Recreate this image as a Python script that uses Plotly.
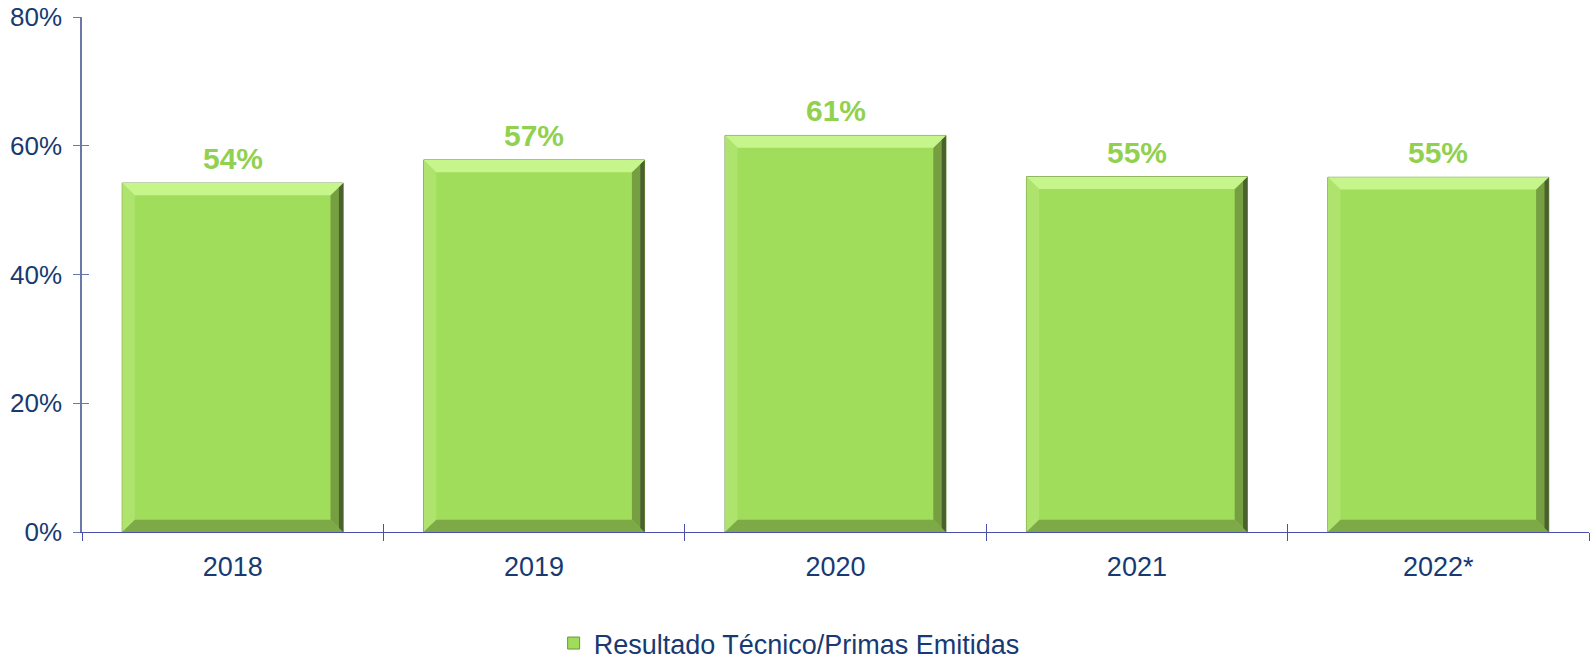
import plotly.graph_objects as go

categories = ["2018", "2019", "2020", "2021", "2022*"]
values = [54.2, 57.8, 61.6, 55.2, 55.1]
labels = ["54%", "57%", "61%", "55%", "55%"]
series_name = "Resultado Técnico/Primas Emitidas"
y_ticks = [0, 20, 40, 60, 80]
y_tick_text = ["0%", "20%", "40%", "60%", "80%"]

FONT = "Liberation Sans, Arial, sans-serif"
NAVY = "#173A72"
BAR = "#A0DD5B"
LABEL = "#92D050"
BAR_W = 0.733

xs = list(range(len(categories)))

fig = go.Figure()
fig.add_trace(go.Bar(
    x=xs, y=values, width=BAR_W, name=series_name,
    marker=dict(color=BAR, line=dict(color="#6E9440", width=1)),
    showlegend=True,
))
# helper empty traces so overlay axes get drawn
fig.add_trace(go.Scatter(x=[], y=[], xaxis="x2", yaxis="y", showlegend=False, hoverinfo="skip"))
fig.add_trace(go.Scatter(x=[], y=[], xaxis="x3", yaxis="y", showlegend=False, hoverinfo="skip"))
fig.add_trace(go.Scatter(x=[], y=[], xaxis="x", yaxis="y2", showlegend=False, hoverinfo="skip"))

# bevel shapes derived from data values
dx, dy, dxo = 0.042, 1.9, 0.014
shapes = []
for i, v in zip(xs, values):
    x0, x1 = i - BAR_W / 2, i + BAR_W / 2
    def path(pts):
        return "M " + " L ".join(f"{a},{b}" for a, b in pts) + " Z"
    shapes.append(dict(type="path", xref="x", yref="y", layer="above", line=dict(width=0),
                       fillcolor="#AEE36E",
                       path=path([(x0, v), (x0, 0), (x0 + dx, dy), (x0 + dx, v - dy)])))
    shapes.append(dict(type="path", xref="x", yref="y", layer="above", line=dict(width=0),
                       fillcolor="#7DAA46",
                       path=path([(x0, 0), (x1, 0), (x1 - dx, dy), (x0 + dx, dy)])))
    shapes.append(dict(type="path", xref="x", yref="y", layer="above", line=dict(width=0),
                       fillcolor="#769F42",
                       path=path([(x1, v), (x1, 0), (x1 - dx, dy), (x1 - dx, v - dy)])))
    shapes.append(dict(type="path", xref="x", yref="y", layer="above", line=dict(width=0),
                       fillcolor="#4A602E",
                       path=path([(x1, v), (x1, 0), (x1 - dxo, dy / 3), (x1 - dxo, v - dy / 3)])))
    shapes.append(dict(type="path", xref="x", yref="y", layer="above", line=dict(width=0),
                       fillcolor="#C6F58C",
                       path=path([(x0, v), (x1, v), (x1 - dx, v - dy), (x0 + dx, v - dy)])))

annotations = [
    dict(x=i, y=v, xref="x", yref="y", text=t, showarrow=False, yanchor="bottom",
         yshift=6, font=dict(family=FONT, size=30, color=LABEL, weight="bold"))
    for i, v, t in zip(xs, values, labels)
]

rng = [-0.5, len(categories) - 0.5]
bounds = [k - 0.5 for k in range(len(categories) + 1)]

fig.update_layout(
    width=1591, height=660,
    margin=dict(l=82, r=2, t=17, b=128, autoexpand=False),
    paper_bgcolor="white", plot_bgcolor="white",
    font=dict(family=FONT, color=NAVY),
    shapes=shapes, annotations=annotations,
    xaxis=dict(range=rng, tickvals=xs, ticktext=categories, ticks="", automargin=False,
               showline=True, linecolor="#4A4FAE", linewidth=1.2, showgrid=False,
               zeroline=False, tickfont=dict(size=27, color=NAVY, family=FONT),
               ticklabelstandoff=10),
    xaxis2=dict(range=rng, overlaying="x", anchor="y", side="bottom", tickvals=bounds,
                ticks="outside", ticklen=8, tickcolor="#4A4FAE", tickwidth=1.2, automargin=False,
                showticklabels=False, showline=False, showgrid=False, zeroline=False),
    xaxis3=dict(range=rng, overlaying="x", anchor="y", side="bottom", tickvals=bounds,
                ticks="inside", ticklen=8, tickcolor="#4A4FAE", tickwidth=1.2, automargin=False,
                showticklabels=False, showline=False, showgrid=False, zeroline=False),
    yaxis=dict(range=[0, 80], tickvals=y_ticks, ticktext=y_tick_text, ticks="outside",
               ticklen=7, tickcolor="#6B78A8", tickwidth=1.2, showline=True, automargin=False,
               linecolor="#6B78A8", linewidth=1.5, showgrid=False, zeroline=False,
               tickfont=dict(size=26, color=NAVY, family=FONT), ticklabelstandoff=6),
    yaxis2=dict(range=[0, 80], overlaying="y", anchor="x", side="left", tickvals=y_ticks,
                ticks="inside", ticklen=7, tickcolor="#6B78A8", tickwidth=1.2, automargin=False,
                showticklabels=False, showline=False, showgrid=False, zeroline=False),
    legend=dict(orientation="h", xref="container", yref="container", x=0.496, y=0.025,
                xanchor="center", yanchor="middle",
                font=dict(size=27, color=NAVY, family=FONT), itemwidth=30),
    showlegend=True,
)

fig.write_html("out.html", config={"displayModeBar": False},
               post_script="document.body.style.margin='0px';")
